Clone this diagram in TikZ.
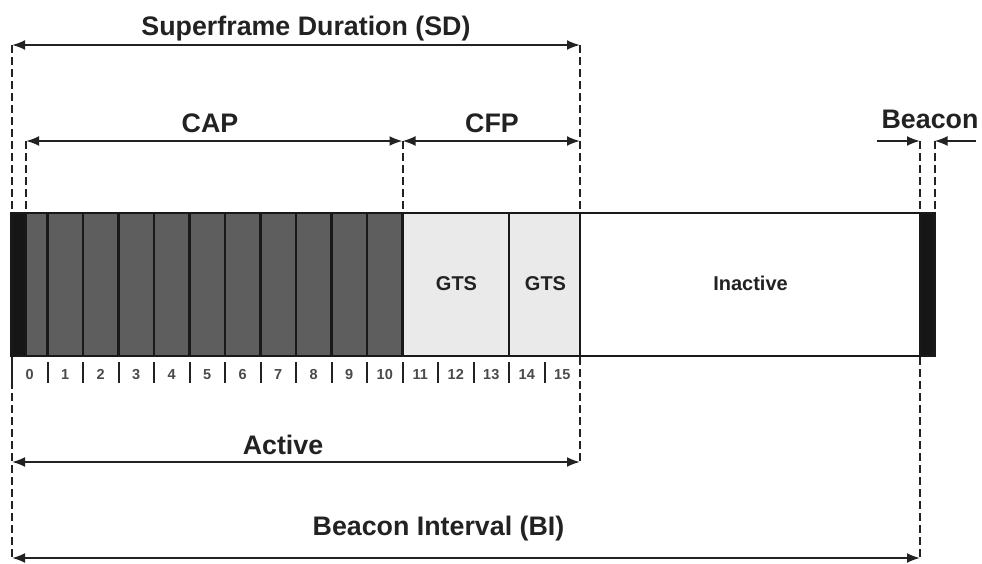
\documentclass[tikz,border=0pt]{standalone}
\usepackage{fontspec}
\setmainfont{Liberation Sans}
\usetikzlibrary{arrows.meta}

\definecolor{ink}{HTML}{222222}
\definecolor{capfill}{HTML}{5E5E5E}
\definecolor{cfpfill}{HTML}{EAEAEA}
\definecolor{bcnfill}{HTML}{161616}
\definecolor{numgray}{HTML}{4A4A4A}

\tikzset{
  span/.style={draw=ink, line width=2pt,
    {Latex[length=13pt,width=10pt]}-{Latex[length=13pt,width=10pt]}},
  halfspan/.style={draw=ink, line width=2pt, -{Latex[length=13pt,width=10pt]}},
  guide/.style={draw=ink, line width=2pt, dash pattern=on 7.5pt off 4.5pt},
  biglabel/.style={font=\bfseries\fontsize{26.8}{30}\selectfont, text=ink, inner sep=0pt, anchor=base},
  seglabel/.style={font=\bfseries\fontsize{20}{24}\selectfont, text=ink, inner sep=0pt, anchor=base},
  numlabel/.style={font=\bfseries\fontsize{14.5}{16}\selectfont, text=numgray, inner sep=0pt, anchor=base},
  slottick/.style={draw=ink, line width=2pt},
  segment/.style={draw=black!90, line width=2.5pt, inner sep=0pt, outer sep=0pt,
    minimum height=143pt, anchor=north west},
  capslot/.style={segment, fill=capfill},
  gtsslot/.style={segment, fill=cfpfill},
  beaconslot/.style={segment, fill=bcnfill},
  idleslot/.style={segment, fill=white},
}

\begin{document}
\begin{tikzpicture}[x=1pt, y=-1pt]
  \useasboundingbox (0,0) rectangle (982,563);

  % reference points of the dimension lines
  \coordinate (sdL)  at (12,45);
  \coordinate (sdR)  at (580,45);
  \coordinate (capL) at (26,141);
  \coordinate (capR) at (402.5,141);
  \coordinate (cfpR) at (580,141);
  \coordinate (capB) at (26,213);
  \coordinate (cfpB) at (402.5,213);
  \coordinate (actL) at (12,462);
  \coordinate (actR) at (580,462);
  \coordinate (biL)  at (12,558);
  \coordinate (biR)  at (920,558);
  \coordinate (bcnL) at (920,141);
  \coordinate (bcnR) at (934.5,141);
  \coordinate (bcnB) at (934.5,213);
  \coordinate (bcnInL) at (877,141);
  \coordinate (bcnInR) at (976,141);

  % dashed extension lines
  \draw[guide] (sdL) -- (biL);
  \draw[guide] (sdR) -- (actR);
  \draw[guide] (capL) -- (capB);
  \draw[guide] (capR) -- (cfpB);
  \draw[guide] (bcnL) -- (biR);
  \draw[guide] (bcnR) -- (bcnB);

  % superframe bar
  \node[beaconslot, minimum width=14.5pt] (b0) at (11.5,213) {};
  \node[capslot, minimum width=21.5pt] (s0) at (26,213) {};
  \foreach \k in {1,...,10}
    \node[capslot, minimum width=35.5pt] (s\k) at ({12+35.5*\k},213) {};
  \node[gtsslot, minimum width=106.5pt] (g1) at (402.5,213) {};
  \node[gtsslot, minimum width=71pt] (g2) at (509,213) {};
  \node[idleslot, minimum width=340pt] (idle) at (580,213) {};
  \node[beaconslot, minimum width=14.5pt] (b1) at (920,213) {};

  \node[seglabel] (g1t) at (456.5,290) {GTS};
  \node[seglabel] (g2t) at (545.5,290) {GTS};
  \node[seglabel] (idlet) at (750.5,290) {Inactive};

  % slot numbering
  \foreach \k in {0,...,15} {
    \draw[slottick] ({12+35.5*\k},362) -- ({12+35.5*\k},383);
    \node[numlabel] (n\k) at ({12+35.5*(\k+0.5)},379) {\k};
  }

  % dimension arrows
  \draw[span] (sdL) -- (sdR);
  \draw[span] (capL) -- (capR);
  \draw[span] (capR) -- (cfpR);
  \draw[span] (actL) -- (actR);
  \draw[span] (biL) -- (biR);
  \draw[halfspan] (bcnInL) -- (bcnL);
  \draw[halfspan] (bcnInR) -- (bcnR);

  % labels
  \node[biglabel] (sdt)  at (306,35)  {Superframe Duration (SD)};
  \node[biglabel] (capt) at (210,132) {CAP};
  \node[biglabel] (cfpt) at (492,132) {CFP};
  \node[biglabel] (bcnt) at (930,128) {Beacon};
  \node[biglabel] (actt) at (283,454) {Active};
  \node[biglabel] (bit)  at (438.5,535) {Beacon Interval (BI)};
\end{tikzpicture}
\end{document}
